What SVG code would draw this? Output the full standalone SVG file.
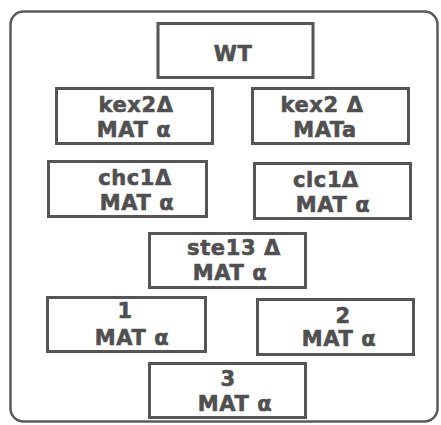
<svg xmlns="http://www.w3.org/2000/svg" width="441" height="425" viewBox="0 0 441 425">
<style>
.box{fill:#fff;stroke:#555;stroke-width:3}
.frame{fill:none;stroke:#5a5a5a;stroke-width:2.5}
text{font-family:"DejaVu Sans","Liberation Sans",sans-serif;font-weight:bold;font-size:21px;fill:#505050;stroke:#505050;stroke-width:0.6;letter-spacing:0.6px;text-anchor:middle}
</style>
<rect width="441" height="425" fill="#fff"/>
<rect class="frame" x="10.5" y="11.5" width="427" height="410" rx="13"/>
<g id="connectors"></g>
<g id="wt"><rect class="box" x="158" y="23.5" width="155" height="54"/><text x="233" y="61">WT</text></g>
<g id="kex2-alpha"><rect class="box" x="56.5" y="88.5" width="156" height="55"/><text x="136" y="112">kex2Δ</text><text x="134" y="137">MAT α</text></g>
<g id="kex2-a"><rect class="box" x="252.5" y="88.5" width="156" height="55"/><text x="322" y="112">kex2 Δ</text><text x="325" y="137">MATa</text></g>
<g id="chc1"><rect class="box" x="48.5" y="161.5" width="158" height="55"/><text x="135" y="185">chc1Δ</text><text x="137" y="210">MAT α</text></g>
<g id="clc1"><rect class="box" x="254.5" y="163.5" width="156" height="55"/><text x="326" y="187">clc1Δ</text><text x="333" y="212">MAT α</text></g>
<g id="ste13"><rect class="box" x="149.5" y="233.5" width="156" height="54"/><text x="234" y="255">ste13 Δ</text><text x="230" y="280">MAT α</text></g>
<g id="n1"><rect class="box" x="47.5" y="297.5" width="158" height="54"/><text x="125" y="318">1</text><text x="132" y="345">MAT α</text></g>
<g id="n2"><rect class="box" x="257.5" y="299.5" width="156" height="55"/><text x="343" y="323">2</text><text x="339" y="346">MAT α</text></g>
<g id="n3"><rect class="box" x="149.5" y="363.5" width="156" height="54"/><text x="228" y="386">3</text><text x="235" y="411">MAT α</text></g>
</svg>
